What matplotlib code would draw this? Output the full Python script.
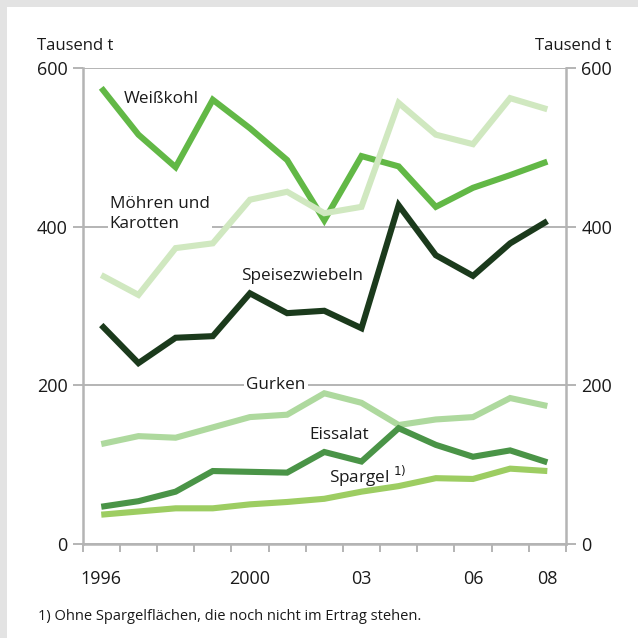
import numpy as np
import matplotlib.pyplot as plt
from matplotlib.patches import Rectangle

plt.rcParams['font.family'] = ['Open Sans', 'DejaVu Sans']

years = np.arange(1996, 2009)
weisskohl = [575, 516, 475, 560, 524, 484, 408, 489, 476, 425, 449, 465, 482]
moehren = [339, 314, 373, 379, 434, 444, 417, 425, 556, 516, 504, 562, 548]
zwiebeln = [276, 228, 260, 262, 316, 291, 294, 272, 427, 364, 338, 379, 407]
gurken = [126, 136, 134, 147, 160, 163, 190, 178, 150, 157, 160, 184, 174]
eissalat = [47, 54, 66, 92, 91, 90, 116, 104, 146, 125, 110, 118, 103]
spargel = [37, 41, 45, 45, 50, 53, 57, 66, 73, 83, 82, 95, 92]

tick_years = [1996, 2000, 2003, 2006, 2008]
tick_labels = ['1996', '2000', '03', '06', '08']

grey = '#b4b4b4'
txt = '#1a1a1a'

fig = plt.figure(figsize=(6.38, 6.38), dpi=100)
fig.patches.append(Rectangle((0, 0), 1, 1, transform=fig.transFigure,
                             facecolor='#e3e3e3', edgecolor='none', zorder=-10))
fig.patches.append(Rectangle((7 / 638, 0), 1, 1 - 7 / 638, transform=fig.transFigure,
                             facecolor='white', edgecolor='none', zorder=-9))

ax = fig.add_axes([0.1296, 0.1473, 0.887 - 0.1296, 0.8934 - 0.1473])
ax.set_facecolor('none')

series = [
    (weisskohl, '#62b846'),
    (moehren, '#d0e8c0'),
    (zwiebeln, '#1b3a1c'),
    (gurken, '#aed99e'),
    (eissalat, '#4a9447'),
    (spargel, '#9dcd62'),
]
# draw order: bottom series first
for vals, col in [series[5], series[3], series[4], series[0], series[1], series[2]]:
    ax.plot(years, vals, color=col, lw=4.4, solid_joinstyle='miter',
            solid_capstyle='butt', zorder=3)

ax.set_xlim(1995.5, 2008.5)
ax.set_ylim(0, 600)
ax.set_yticks([0, 200, 400, 600])
ax.set_yticklabels(['0', '200', '400', '600'])
ax.grid(axis='y', color=grey, lw=1.4, zorder=1)
ax.set_xticks(tick_years)
ax.set_xticklabels(tick_labels)
ax.set_xticks(np.arange(1995.5, 2009, 1), minor=True)

for s in ['left', 'right', 'bottom']:
    ax.spines[s].set_color(grey)
    ax.spines[s].set_linewidth(1.8)
ax.spines['top'].set_visible(False)

ax.tick_params(axis='y', left=True, right=True, labelleft=True, labelright=True,
               length=7, width=1.4, color=grey, labelsize=13, labelcolor=txt, pad=4)
ax.tick_params(axis='x', which='major', length=0, labelsize=13, labelcolor=txt, pad=19)
ax.tick_params(axis='x', which='minor', length=6, width=1.4, color=grey, direction='out')

fs = 12.3
box = dict(facecolor='white', edgecolor='none', pad=1.5)
ax.text(1996.6, 561, 'Weißkohl', fontsize=fs, color=txt, va='center', ha='left', zorder=4)
ax.text(1996.23, 416, 'Möhren und\nKarotten', fontsize=fs, color=txt, va='center',
        ha='left', linespacing=1.35, bbox=box, zorder=2)
ax.text(2001.4, 338, 'Speisezwiebeln', fontsize=fs, color=txt, va='center', ha='center', zorder=4)
ax.text(2000.7, 200, 'Gurken', fontsize=fs, color=txt, va='center', ha='center', bbox=box, zorder=2)
ax.text(2002.4, 137, 'Eissalat', fontsize=fs, color=txt, va='center', ha='center', zorder=4)
ax.text(2003.17, 85, 'Spargel $^{1)}$', fontsize=fs, color=txt, va='center', ha='center', zorder=4)

fig.text(37 / 638, 1 - 46 / 638, 'Tausend t', fontsize=12, color=txt, va='center', ha='left')
fig.text(611 / 638, 1 - 46 / 638, 'Tausend t', fontsize=12, color=txt, va='center', ha='right')
fig.text(38 / 638, 1 - 617 / 638, '1) Ohne Spargelflächen, die noch nicht im Ertrag stehen.',
         fontsize=10.5, color=txt, va='center', ha='left')

fig.savefig('out.png', dpi=100)
